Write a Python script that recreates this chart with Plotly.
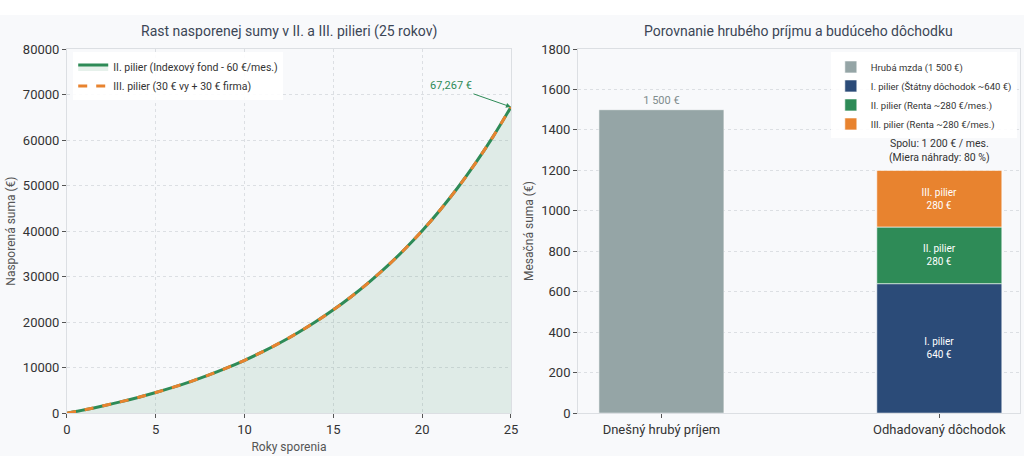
import plotly.graph_objects as go
from plotly.subplots import make_subplots

# left chart: savings by year (same curve for both pillars)
years = list(range(26))
pillar2_savings = [0, 750, 1571, 2469, 3451, 4525, 5700, 6986, 8391, 9929, 11611,
                   13451, 15463, 17664, 20071, 22704, 25585, 28735, 32181, 35950,
                   40073, 44583, 49515, 54911, 60812, 67267]
pillar3_savings = list(pillar2_savings)

# right chart: monthly amounts
categories = ["Dnešný hrubý príjem", "Odhadovaný dôchodok"]
gross_wage = 1500
pension_parts = [640, 280, 280]
pension_names = ["I. pilier (Štátny dôchodok ~640 €)",
                 "II. pilier (Renta ~280 €/mes.)",
                 "III. pilier (Renta ~280 €/mes.)"]
pension_labels = ["I. pilier<br>640 €", "II. pilier<br>280 €", "III. pilier<br>280 €"]

GREEN = "#2e8b57"
ORANGE = "#e8832f"
NAVY = "#2b4b78"
GRAY = "#95a5a6"
BG = "#f8f9fb"
FONT = "Roboto"

fig = make_subplots(rows=1, cols=2)

fig.add_trace(go.Scatter(
    x=years, y=pillar2_savings, mode="lines", name="II. pilier (Indexový fond - 60 €/mes.)",
    line=dict(color=GREEN, width=3, shape="spline"),
    fill="tozeroy", fillcolor="rgba(46,139,87,0.12)", legend="legend"), row=1, col=1)
fig.add_trace(go.Scatter(
    x=years, y=pillar3_savings, mode="lines", name="III. pilier (30 € vy + 30 € firma)",
    line=dict(color=ORANGE, width=3, dash="dash", shape="spline"), legend="legend"), row=1, col=1)

fig.add_trace(go.Bar(
    x=[categories[0]], y=[gross_wage], name="Hrubá mzda (1 500 €)", width=0.45,
    marker=dict(color=GRAY, line=dict(color="rgba(255,255,255,0.6)", width=1)),
    text=["1 500 €"], textposition="outside", textfont=dict(color="#7f8c8d", size=11),
    cliponaxis=False, legend="legend2"), row=1, col=2)

pension_colors = [NAVY, GREEN, ORANGE]
base = 0
for val, name, lab, col in zip(pension_parts, pension_names, pension_labels, pension_colors):
    fig.add_trace(go.Bar(
        x=[categories[1]], y=[val], base=[base], name=name, width=0.45,
        marker=dict(color=col, line=dict(color="rgba(255,255,255,0.6)", width=1)),
        text=[lab], textposition="inside", insidetextanchor="middle",
        textfont=dict(color="white", size=10), legend="legend2"), row=1, col=2)
    base += val

total = sum(pension_parts)
fig.add_annotation(
    x=categories[1], y=total, xref="x2", yref="y2", yshift=20, showarrow=False,
    text="Spolu: 1 200 € / mes.<br>(Miera náhrady: 80 %)",
    font=dict(size=10.5, color="#333"))

fig.add_annotation(
    x=years[-1], y=pillar2_savings[-1], xref="x", yref="y",
    text="67,267 €", font=dict(size=11, color=GREEN),
    showarrow=True, arrowhead=2, arrowsize=1, arrowwidth=1, arrowcolor=GREEN,
    ax=-60, ay=-21)

fig.add_annotation(x=0.2825, y=0.955, xref="paper", yref="paper", showarrow=False,
                   xanchor="center", yanchor="top",
                   text="Rast nasporenej sumy v II. a III. pilieri (25 rokov)",
                   font=dict(size=14, color="#3c4656"))
fig.add_annotation(x=0.78, y=0.955, xref="paper", yref="paper", showarrow=False,
                   xanchor="center", yanchor="top",
                   text="Porovnanie hrubého príjmu a budúceho dôchodku",
                   font=dict(size=14, color="#3c4656"))

axis_common = dict(showline=True, linecolor="#dcdfe3", mirror=True, ticks="outside",
                   ticklen=4, tickcolor="#555", gridcolor="#dcdfe3", griddash="dot",
                   gridwidth=0.8, tickfont=dict(size=13, color="#333"), zeroline=False,
                   automargin=False)

fig.update_xaxes(**axis_common, range=[0, 25], dtick=5, domain=[0.0654, 0.499],
                 title=dict(text="Roky sporenia", font=dict(size=12, color="#555"), standoff=6),
                 row=1, col=1)
fig.update_yaxes(**axis_common, range=[0, 80000], dtick=10000, tickformat="d",
                 domain=[0.094, 0.8925],
                 title=dict(text="Nasporená suma (€)", font=dict(size=12, color="#555"), standoff=4),
                 row=1, col=1)
fig.update_xaxes(**axis_common, range=[-0.3, 1.29], domain=[0.5645, 0.996], showgrid=False,
                 row=1, col=2)
fig.update_yaxes(**axis_common, range=[0, 1800], dtick=200, domain=[0.094, 0.8925],
                 title=dict(text="Mesačná suma (€)", font=dict(size=12, color="#555"), standoff=4),
                 row=1, col=2)

fig.add_shape(type="rect", xref="paper", yref="paper", x0=0, x1=1, y0=0.967, y1=1.0,
              fillcolor="white", line=dict(width=0), layer="below")

fig.update_layout(
    width=1024, height=456, margin=dict(l=0, r=0, t=0, b=0, pad=0),
    paper_bgcolor=BG, plot_bgcolor=BG, barmode="overlay",
    font=dict(family=FONT, color="#333"),
    legend=dict(x=0.0715, y=0.885, xanchor="left", yanchor="top", bgcolor="rgba(255,255,255,0.9)",
                font=dict(size=10.5), tracegroupgap=0, itemwidth=30),
    legend2=dict(x=0.993, y=0.885, xanchor="right", yanchor="top", bgcolor="rgba(255,255,255,0.9)",
                 font=dict(size=9.5), tracegroupgap=0, traceorder="normal", itemwidth=30),
)

# page body has a default 8px margin; drop it so the figure fills the window
fig.write_html("out.html", config={"displayModeBar": False},
               post_script="document.body.style.margin='0';")
